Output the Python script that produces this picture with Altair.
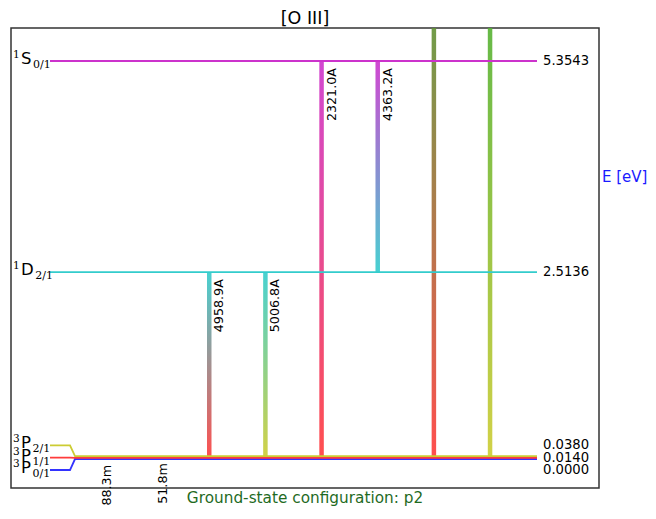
import altair as alt
import pandas as pd

# ---------------- data ----------------
level_ids = ["3P0", "3P1", "3P2", "1D2", "1S0", "5S2"]
level_energy = [0.0000, 0.0140, 0.0380, 2.5136, 5.3543, 7.4793]
level_mult = ["3", "3", "3", "1", "1", "5"]
level_letter = ["P", "P", "P", "D", "S", "S"]
level_sub = ["0/1", "1/1", "2/1", "2/1", "0/1", "2/1"]

trans_upper = ["3P1", "3P2", "1D2", "1D2", "1S0", "1S0", "5S2", "5S2"]
trans_lower = ["3P0", "3P1", "3P1", "3P2", "3P1", "1D2", "3P1", "3P2"]
trans_label = ["88.3m", "51.8m", "4958.9A", "5006.8A", "2321.0A", "4363.2A", "1660.8A", "1666.1A"]
trans_slot = [0, 1, 2, 3, 4, 5, 6, 7]

title_text = "[O III]"
yaxis_text = "E [eV]"
config_text = "Ground-state configuration: p2"

# ---------------- style ----------------
level_color = {"3P0": "#3333ff", "3P1": "#ff3b3b", "3P2": "#cccc33",
               "1D2": "#33cccc", "1S0": "#cc33cc", "5S2": "#33aa33"}
FONT = "DejaVu Sans"
SERIF = "DejaVu Serif"

W, H = 588, 460
X_DOM = [-1.53, 8.94]
Y_DOM = [-0.390, 5.7985]
spp = (X_DOM[1] - X_DOM[0]) / W      # x units per pixel
epp = (Y_DOM[1] - Y_DOM[0]) / H      # eV per pixel


def xpx(p):
    return X_DOM[0] + p * spp


xscale = alt.Scale(domain=X_DOM, nice=False, zero=False, padding=0)
yscale = alt.Scale(domain=Y_DOM, nice=False, zero=False, padding=0)

energy = dict(zip(level_ids, level_energy))

# spread labels of levels that are too close together
sep = 12.3 * epp
order = sorted(range(len(level_ids)), key=lambda i: level_energy[i])
display = [0.0] * len(level_ids)
clusters = []
for i in order:
    if clusters and level_energy[i] - level_energy[clusters[-1][-1]] < sep:
        clusters[-1].append(i)
    else:
        clusters.append([i])
for cl in clusters:
    c = sum(level_energy[i] for i in cl) / len(cl)
    n = len(cl)
    for k, i in enumerate(cl):
        display[i] = c + (k - (n - 1) / 2) * sep

# level line paths
rows = []
for i, lid in enumerate(level_ids):
    e, d = level_energy[i], display[i]
    pts = [(xpx(39), d), (xpx(59), d), (xpx(64), e), (xpx(526), e)]
    for k, (x, y) in enumerate(pts):
        rows.append({"level": lid, "k": i * 10 + k, "x": x, "y": y})
paths = pd.DataFrame(rows)

levels_chart = alt.Chart(paths).mark_line(strokeWidth=1.8, clip=True).encode(
    x=alt.X("x:Q", scale=xscale, axis=None),
    y=alt.Y("y:Q", scale=yscale, axis=None),
    detail="level:N",
    order="k:Q",
    color=alt.Color("level:N", scale=alt.Scale(domain=level_ids,
                    range=[level_color[l] for l in level_ids]), legend=None),
)

# transitions (gradient bars)
bar_layers = []
for s, u, l in zip(trans_slot, trans_upper, trans_lower):
    df = pd.DataFrame({"slot": [s], "top": [energy[u]], "bot": [energy[l]]})
    grad = {"gradient": "linear", "x1": 0, "x2": 0, "y1": 0, "y2": 1,
            "stops": [{"offset": 0, "color": level_color[u]},
                      {"offset": 1, "color": level_color[l]}]}
    bar_layers.append(
        alt.Chart(df).mark_bar(size=4.5, clip=True, opacity=0.9, color=grad).encode(
            x=alt.X("slot:Q", scale=xscale, axis=None),
            y=alt.Y("top:Q", scale=yscale, axis=None),
            y2="bot:Q",
        )
    )

# wavelength labels
tdf = pd.DataFrame({"slot": trans_slot, "label": trans_label,
                    "top": [energy[u] for u in trans_upper]})
tdf = tdf[tdf["top"] <= Y_DOM[1]]
wl_chart = alt.Chart(tdf).mark_text(angle=270, align="right", baseline="top",
                                    dx=-7, dy=4, fontSize=12.7, font=FONT,
                                    color="black").encode(
    x=alt.X("slot:Q", scale=xscale, axis=None),
    y=alt.Y("top:Q", scale=yscale, axis=None),
    text="label:N",
)

# level labels
ldf = pd.DataFrame({"level": level_ids, "e": level_energy, "d": display,
                    "mult": level_mult, "letter": level_letter, "sub": level_sub})
ldf = ldf[ldf["e"] <= Y_DOM[1]].copy()
ldf["val"] = ldf["e"].map(lambda v: f"{v:.4f}")
letter_w = {"S": 0.635, "D": 0.770, "P": 0.603}
MAIN_FS = 16.5
ldf["x_sup"] = xpx(2)
ldf["x_main"] = xpx(10)
ldf["x_sub"] = ldf["letter"].map(lambda c: xpx(10 + letter_w[c] * MAIN_FS + 1.5))
ldf["x_val"] = xpx(532)

val_chart = alt.Chart(ldf).mark_text(align="left", baseline="middle", fontSize=13.2,
                                     font=FONT, color="black").encode(
    x=alt.X("x_val:Q", scale=xscale, axis=None),
    y=alt.Y("d:Q", scale=yscale, axis=None),
    text="val:N",
)
sup_chart = alt.Chart(ldf).mark_text(align="left", baseline="middle", fontSize=10.5,
                                     font=SERIF, color="black", dy=-6).encode(
    x=alt.X("x_sup:Q", scale=xscale, axis=None),
    y=alt.Y("d:Q", scale=yscale, axis=None),
    text="mult:N",
)
main_chart = alt.Chart(ldf).mark_text(align="left", baseline="middle", fontSize=MAIN_FS,
                                      font=FONT, color="black", dy=-2).encode(
    x=alt.X("x_main:Q", scale=xscale, axis=None),
    y=alt.Y("d:Q", scale=yscale, axis=None),
    text="letter:N",
)
sub_chart = alt.Chart(ldf).mark_text(align="left", baseline="middle", fontSize=11,
                                     font=SERIF, color="black", dy=4).encode(
    x=alt.X("x_sub:Q", scale=xscale, axis=None),
    y=alt.Y("d:Q", scale=yscale, axis=None),
    text="sub:N",
)

# free texts
one = pd.DataFrame({"t": [yaxis_text]})
ylab = alt.Chart(one).mark_text(align="left", baseline="middle", fontSize=15,
                                font=FONT, color="#1a1aff").encode(
    x=alt.value(W + 3), y=alt.value(149), text="t:N")
two = pd.DataFrame({"t": [config_text]})
cfg = alt.Chart(two).mark_text(align="center", baseline="alphabetic", fontSize=15.3,
                               font=FONT, color="#1f6b1f").encode(
    x=alt.value(W / 2), y=alt.value(H + 15), text="t:N")

chart = alt.layer(*bar_layers, levels_chart, wl_chart, val_chart, sup_chart,
                  main_chart, sub_chart, ylab, cfg).properties(
    width=W, height=H,
    title=alt.TitleParams(title_text, fontSize=17.5, fontWeight="normal", font=FONT,
                          color="black", offset=1),
    autosize=alt.AutoSizeParams(type="none"),
    padding={"left": 3, "top": 20, "right": 49, "bottom": 19},
    background="white",
).configure_view(stroke="#333333", strokeWidth=1.5)

chart.save("out.html", embed_options={"renderer": "svg", "actions": False})
